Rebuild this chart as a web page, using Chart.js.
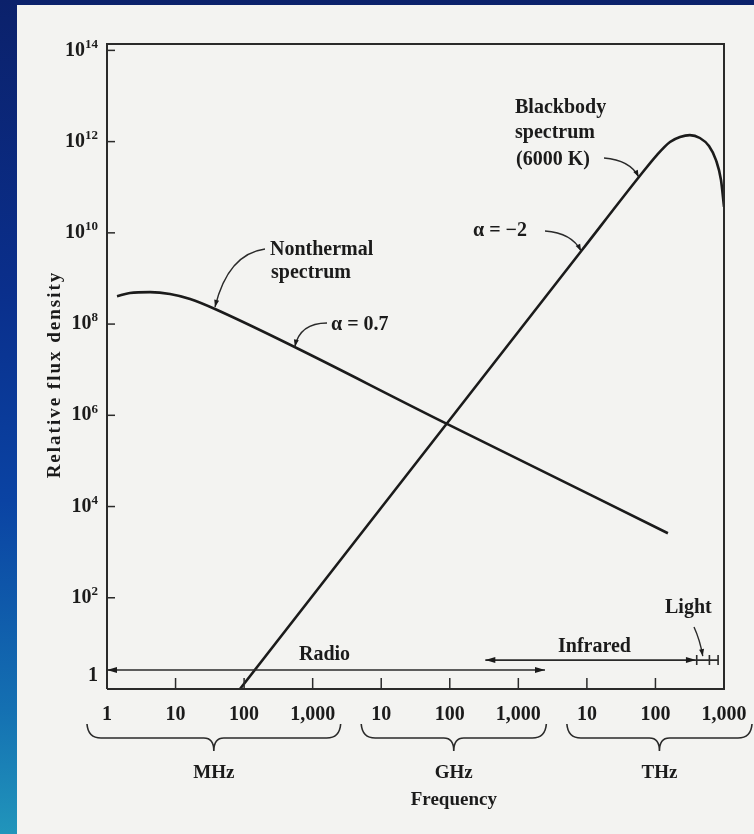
<!DOCTYPE html>
<html>
<head>
<meta charset="utf-8">
<title>Relative flux density</title>
<script src="https://cdn.jsdelivr.net/npm/chart.js@4.4.1/dist/chart.umd.min.js"></script>
<style>
  html, body { margin: 0; padding: 0; background: #0b216b; overflow: hidden; }
  canvas { display: block; }
</style>
</head>
<body>
<canvas id="spectrumChart" width="754" height="834"></canvas>
<script>
// Frequencies in Hz, flux in relative units
const nonthermalFreq = [1.40e6, 2.16e6, 4.24e6, 8.30e6, 1.63e7, 3.76e7, 9.1e10, 1.52e14];
const nonthermalFlux = [4.07e8, 4.79e8, 5.01e8, 4.57e8, 3.55e8, 2.14e8, 6.5e5, 2.6e3];

const blackbodyFreq = [8.7e7, 8.5e12, 5.9e13, 1.05e14, 1.63e14, 2.28e14, 3.18e14, 4.45e14, 6.04e14, 7.64e14, 9.04e14, 1e15];
const blackbodyFlux = [1, 4.2e9, 1.76e11, 5.07e11, 9.8e11, 1.26e12, 1.39e12, 1.20e12, 8.0e11, 3.94e11, 1.44e11, 3.7e10];

const xTickValues = [1e6, 1e7, 1e8, 1e9, 1e10, 1e11, 1e12, 1e13, 1e14, 1e15];
const xTickLabels = ['1', '10', '100', '1,000', '10', '100', '1,000', '10', '100', '1,000'];

const yTickValues = [1, 1e2, 1e4, 1e6, 1e8, 1e10, 1e12, 1e14];
const yTickBases = ['1', '10', '10', '10', '10', '10', '10', '10'];
const yTickExponents = ['', '2', '4', '6', '8', '10', '12', '14'];

const unitNames = ['MHz', 'GHz', 'THz'];
const unitFrom = [1e6, 1e10, 1e13];
const unitTo = [1e9, 1e12, 1e15];

const bandNames = ['Radio', 'Infrared', 'Light'];
const bandFrom = [1e6, 3.3e11, 4.0e14];
const bandTo = [2.45e12, 3.9e14, 8.2e14];
const bandLevel = [2.6, 4.3, 4.3];

const INK = '#1b1b1b';
const SERIF = '"Liberation Serif", "DejaVu Serif", serif';

function toPoints(xs, ys) {
    return xs.map((x, i) => ({ x: x, y: ys[i] }));
}

function arrowHead(ctx, x, y, angle, len, width) {
    ctx.save();
    ctx.translate(x, y);
    ctx.rotate(angle);
    ctx.beginPath();
    ctx.moveTo(0, 0);
    ctx.lineTo(-len, -width / 2);
    ctx.lineTo(-len, width / 2);
    ctx.closePath();
    ctx.fill();
    ctx.restore();
}

// curved leader line ending in an arrow
function leader(ctx, sx, sy, cx, cy, tx, ty) {
    ctx.beginPath();
    ctx.moveTo(sx, sy);
    ctx.quadraticCurveTo(cx, cy, tx, ty);
    ctx.stroke();
    arrowHead(ctx, tx, ty, Math.atan2(ty - cy, tx - cx), 7, 5);
}

function brace(ctx, x0, x1, yTop, yMid, yTip) {
    const xm = (x0 + x1) / 2;
    ctx.beginPath();
    ctx.moveTo(x0, yTop);
    ctx.quadraticCurveTo(x0 + 1, yMid, x0 + 14, yMid);
    ctx.lineTo(xm - 10, yMid);
    ctx.quadraticCurveTo(xm, yMid, xm, yTip);
    ctx.quadraticCurveTo(xm, yMid, xm + 10, yMid);
    ctx.lineTo(x1 - 14, yMid);
    ctx.quadraticCurveTo(x1 - 1, yMid, x1, yTop);
    ctx.stroke();
    return xm;
}

// slide background and paper
const paperPlugin = {
    id: 'paper',
    beforeDraw(chart) {
        const ctx = chart.ctx;
        const g = ctx.createLinearGradient(0, 0, 0, chart.height);
        g.addColorStop(0, '#0b216b');
        g.addColorStop(0.35, '#0a2f8c');
        g.addColorStop(0.6, '#0a43a3');
        g.addColorStop(0.85, '#1470b2');
        g.addColorStop(1, '#2195bb');
        ctx.save();
        ctx.fillStyle = g;
        ctx.fillRect(0, 0, chart.width, chart.height);
        ctx.fillStyle = '#f3f3f1';
        ctx.fillRect(17, 5, chart.width - 17, chart.height - 5);
        ctx.restore();
    }
};

// frame, ticks, labels and annotations
const figurePlugin = {
    id: 'figure',
    afterDraw(chart) {
        const ctx = chart.ctx;
        const a = chart.chartArea;
        const xs = chart.scales.x;
        const ys = chart.scales.y;
        ctx.save();
        ctx.strokeStyle = '#2a2a2a';
        ctx.fillStyle = INK;

        // frame
        ctx.lineWidth = 2;
        ctx.beginPath();
        ctx.moveTo(a.left, a.bottom);
        ctx.lineTo(a.left, a.top);
        ctx.lineTo(a.right, a.top);
        ctx.lineTo(a.right, a.bottom);
        ctx.lineTo(a.left, a.bottom);
        ctx.stroke();

        // inward tick marks
        ctx.lineWidth = 1.5;
        xTickValues.forEach(v => {
            const px = xs.getPixelForValue(v);
            ctx.beginPath();
            ctx.moveTo(px, a.bottom);
            ctx.lineTo(px, a.bottom - 11);
            ctx.stroke();
        });
        yTickValues.forEach(v => {
            const py = ys.getPixelForValue(v);
            ctx.beginPath();
            ctx.moveTo(a.left, py);
            ctx.lineTo(a.left + 8, py);
            ctx.stroke();
        });

        // y tick labels with exponents
        ctx.textBaseline = 'middle';
        yTickValues.forEach((v, i) => {
            let py = ys.getPixelForValue(v);
            if (v === 1) py -= 13;
            const exp = yTickExponents[i];
            ctx.font = 'bold 13px ' + SERIF;
            const ew = ctx.measureText(exp).width;
            ctx.textAlign = 'right';
            ctx.fillText(exp, a.left - 9, py - 6);
            ctx.font = 'bold 20px ' + SERIF;
            ctx.fillText(yTickBases[i], a.left - 9 - ew, py);
        });

        // y axis title
        ctx.save();
        ctx.translate(55, (a.top + a.bottom) / 2 + 8);
        ctx.rotate(-Math.PI / 2);
        ctx.font = 'bold 19px ' + SERIF;
        ctx.letterSpacing = '2px';
        ctx.textAlign = 'center';
        ctx.fillText('Relative flux density', 0, 0);
        ctx.restore();

        // unit braces and labels
        ctx.lineWidth = 1.6;
        ctx.font = 'bold 19px ' + SERIF;
        ctx.textAlign = 'center';
        let freqX = 0;
        unitNames.forEach((name, i) => {
            const x0 = xs.getPixelForValue(unitFrom[i]) - 20;
            const x1 = xs.getPixelForValue(unitTo[i]) + 28;
            const xm = brace(ctx, x0, x1, 724, 738, 751);
            ctx.fillText(name, xm, 773);
            if (i === 1) freqX = xm;
        });
        ctx.fillText('Frequency', freqX, 800);

        // spectral bands
        ctx.lineWidth = 1.6;
        const bandY = bandLevel.map(v => ys.getPixelForValue(v));
        const bx0 = bandFrom.map(v => xs.getPixelForValue(v));
        const bx1 = bandTo.map(v => xs.getPixelForValue(v));
        for (let i = 0; i < 2; i++) {
            ctx.beginPath();
            ctx.moveTo(bx0[i], bandY[i]);
            ctx.lineTo(bx1[i], bandY[i]);
            ctx.stroke();
            arrowHead(ctx, bx0[i], bandY[i], Math.PI, 10, 6);
            arrowHead(ctx, bx1[i], bandY[i], 0, 10, 6);
        }
        ctx.beginPath();
        ctx.moveTo(bx0[2], bandY[2]);
        ctx.lineTo(bx1[2], bandY[2]);
        [bx0[2], (bx0[2] + bx1[2]) / 2 + 2, bx1[2]].forEach(px => {
            ctx.moveTo(px, bandY[2] - 5);
            ctx.lineTo(px, bandY[2] + 5);
        });
        ctx.stroke();

        // annotations
        ctx.font = 'bold 20px ' + SERIF;
        ctx.textAlign = 'left';
        ctx.textBaseline = 'middle';
        ctx.fillText(bandNames[0], 299, 655);
        ctx.fillText(bandNames[1], 558, 647);
        ctx.fillText(bandNames[2], 665, 608);

        ctx.fillText('Nonthermal', 270, 250);
        ctx.fillText('spectrum', 271, 273);
        ctx.fillText('\u03b1 = 0.7', 331, 325);
        ctx.fillText('Blackbody', 515, 108);
        ctx.fillText('spectrum', 515, 133);
        ctx.fillText('(6000 K)', 516, 160);
        ctx.fillText('\u03b1 = \u22122', 473, 231);

        ctx.lineWidth = 1.4;
        const nt = chart.getDatasetMeta(0).data;
        const bb = chart.getDatasetMeta(1).data;
        leader(ctx, 265, 249, 228, 254, nt[5].x, nt[5].y - 2);
        leader(ctx, 327, 323, 300, 323, xs.getPixelForValue(5.5e8), ys.getPixelForValue(2.9e7) - 2);
        leader(ctx, 604, 158, 630, 160, bb[2].x - 1, bb[2].y + 1);
        leader(ctx, 545, 231, 572, 233, bb[1].x - 1, bb[1].y + 1);
        leader(ctx, 694, 627, 700, 640, xs.getPixelForValue(4.9e14), bandY[2] - 4);

        ctx.restore();
    }
};

const ctx = document.getElementById('spectrumChart').getContext('2d');
const spectrumChart = new Chart(ctx, {
    type: 'line',
    data: {
        datasets: [
            {
                label: 'Nonthermal spectrum',
                data: toPoints(nonthermalFreq, nonthermalFlux),
                borderColor: INK,
                borderWidth: 2.6,
                pointRadius: 0,
                cubicInterpolationMode: 'monotone',
                fill: false
            },
            {
                label: 'Blackbody spectrum (6000 K)',
                data: toPoints(blackbodyFreq, blackbodyFlux),
                borderColor: INK,
                borderWidth: 2.6,
                pointRadius: 0,
                cubicInterpolationMode: 'monotone',
                fill: false
            }
        ]
    },
    options: {
        responsive: false,
        animation: false,
        devicePixelRatio: 1,
        layout: { padding: { top: 44, right: 30, left: 17, bottom: 0 } },
        plugins: {
            legend: { display: false },
            tooltip: { enabled: false }
        },
        scales: {
            x: {
                type: 'logarithmic',
                min: 1e6,
                max: 1e15,
                grid: { display: false, drawTicks: false },
                border: { display: false },
                afterBuildTicks: function(scale) {
                    scale.ticks = xTickValues.map(v => ({ value: v }));
                },
                afterFit: function(scale) {
                    scale.height = 145;
                    scale.paddingLeft = 0;
                    scale.paddingRight = 0;
                },
                ticks: {
                    autoSkip: false,
                    maxRotation: 0,
                    padding: 14,
                    color: INK,
                    font: { family: SERIF, size: 20, weight: 'bold' },
                    callback: function(value, index) {
                        return xTickLabels[index];
                    }
                }
            },
            y: {
                type: 'logarithmic',
                min: 1,
                max: 1.38e14,
                grid: { display: false, drawTicks: false },
                border: { display: false },
                afterBuildTicks: function(scale) {
                    scale.ticks = yTickValues.map(v => ({ value: v }));
                },
                afterFit: function(scale) {
                    scale.width = 90;
                    scale.paddingTop = 0;
                    scale.paddingBottom = 0;
                },
                ticks: { display: false }
            }
        }
    },
    plugins: [paperPlugin, figurePlugin]
});
</script>
</body>
</html>
